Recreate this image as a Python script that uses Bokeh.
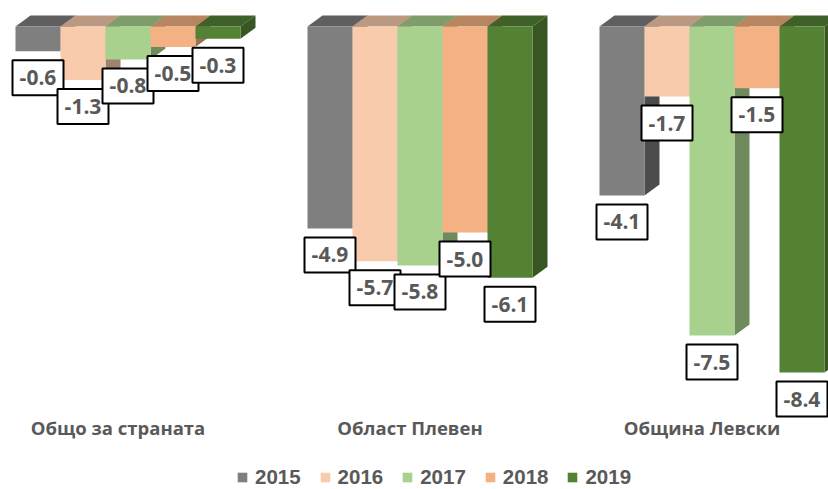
from bokeh.plotting import figure
from bokeh.models import Range1d, Legend, LegendItem
from bokeh.core.properties import value
from bokeh.embed import file_html
from bokeh.resources import INLINE

categories = ["Общо за страната", "Област Плевен", "Община Левски"]
years = ["2015", "2016", "2017", "2018", "2019"]
v2015 = [-0.6, -4.9, -4.1]
v2016 = [-1.3, -5.7, -1.7]
v2017 = [-0.8, -5.8, -7.5]
v2018 = [-0.5, -5.0, -1.5]
v2019 = [-0.3, -6.1, -8.4]
series = [v2015, v2016, v2017, v2018, v2019]

front = ["#7f7f7f", "#f8cbad", "#a9d18e", "#f4b183", "#548235"]
top = ["#5f5f5f", "#ba9882", "#7f9d6b", "#b7855f", "#3f6128"]
side = ["#4c4c4c", "#a08270", "#6f8a5c", "#9c7253", "#375622"]

TXT = "#595959"
FONT = "Open Sans"
W, H = 828, 489
GROUP_PX = 292.0        # px between groups
BAR = 45.0 / GROUP_PX   # bar width in x units
DX = 15.0 / GROUP_PX    # 3-D depth
PX_Y = 41.2             # px per unit
DY = 11.0 / PX_Y
X0 = -127.5 / GROUP_PX

p = figure(width=W, height=H, output_backend="svg", toolbar_location=None,
           x_range=Range1d(X0, X0 + W / GROUP_PX),
           y_range=Range1d((26 - H) / PX_Y, 26 / PX_Y),
           x_axis_location=None, y_axis_location=None, min_border=0,
           outline_line_color=None, background_fill_color="white",
           border_fill_color="white")
p.grid.visible = False

legend_items = []
for i, vals in enumerate(series):
    xs = [g + (i - 2) * BAR for g in range(3)]
    sx, sy, tx, ty = [], [], [], []
    for x, v in zip(xs, vals):
        r = x + BAR / 2
        l = x - BAR / 2
        sx.append([r, r + DX, r + DX, r])
        sy.append([0, DY, v + DY, v])
        tx.append([l, r, r + DX, l + DX])
        ty.append([0, 0, DY, DY])
    p.patches(sx, sy, fill_color=side[i], line_color=None)
    p.patches(tx, ty, fill_color=top[i], line_color=None)
    b = p.vbar(x=xs, width=BAR, top=[0, 0, 0], bottom=vals,
               fill_color=front[i], line_color=None)
    legend_items.append(LegendItem(label=years[i], renderers=[b]))

LABEL_OFF = 26.5 / PX_Y
for g in range(3):
    for i, vals in enumerate(series):
        x = g + (i - 2) * BAR
        y = vals[g] - LABEL_OFF
        p.rect([x], [y], width=51, height=35, width_units="screen", height_units="screen",
               fill_color="white", line_color="black", line_width=2)
        p.text([x], [y], text=[f"{vals[g]:.1f}"], text_align="center", text_baseline="middle",
               text_font=value(FONT), text_font_style="bold", text_font_size="21px",
               text_color=TXT)

p.text([g - 10 / GROUP_PX for g in range(3)], [(26 - 427) / PX_Y] * 3, text=categories,
       text_align="center", text_baseline="middle",
       text_font=value(FONT), text_font_style="bold", text_font_size="18.5px", text_color=TXT)

legend = Legend(items=legend_items, orientation="horizontal", location=(236, 0),
                border_line_color=None, background_fill_alpha=0,
                glyph_width=12, glyph_height=12, spacing=18, label_standoff=7, padding=0, margin=0,
                label_text_font="Liberation Sans", label_text_font_style="bold",
                label_text_font_size="20.5px", label_text_color=TXT)
p.add_layout(legend, "center")

open("out.html", "w").write(file_html(p, INLINE))
